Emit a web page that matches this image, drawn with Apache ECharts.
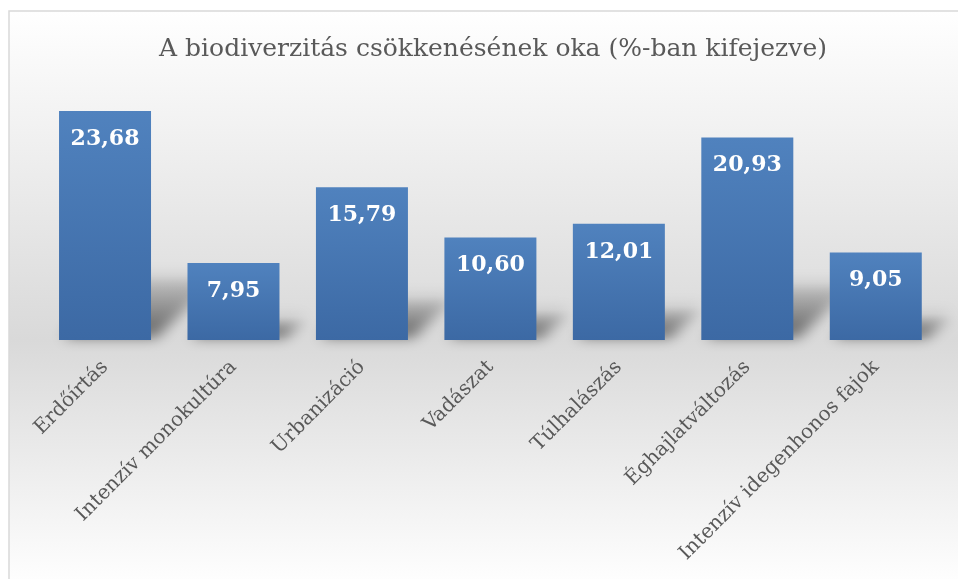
<!DOCTYPE html>
<html>
<head>
<meta charset="utf-8">
<script src="https://cdn.jsdelivr.net/npm/echarts@6/dist/echarts.min.js"></script>
<style>
  html, body { margin: 0; padding: 0; background: #ffffff; }
  #chart { width: 958px; height: 579px; }
</style>
</head>
<body>
<div id="chart"></div>
<script>
// Causes of biodiversity loss, in percent
const titleText = 'A biodiverzitás csökkenésének oka (%-ban kifejezve)';
const categories = [
  'Erdőírtás',
  'Intenzív monokultúra',
  'Urbanizáció',
  'Vadászat',
  'Túlhalászás',
  'Éghajlatváltozás',
  'Intenzív idegenhonos fajok'
];
const values = [23.68, 7.95, 15.79, 10.60, 12.01, 20.93, 9.05];

const serif = '"DejaVu Serif", "Liberation Serif", serif';
const fmt = v => v.toFixed(2).replace('.', ',');

const chart = echarts.init(document.getElementById('chart'), null, { renderer: 'canvas' });

// Soft slanted floor shadow behind each bar: the shape itself is drawn
// off to the left and only its blurred canvas shadow lands next to the bar.
const SHIFT = 3000;
function renderShadow(params, api) {
  const i = api.value(0);
  const v = api.value(1);
  const base = api.coord([i, 0]);
  const top = api.coord([i, v]);
  const w = api.size([1, 0])[0] * 0.716;
  const h = base[1] - top[1];
  const dh = h * 0.27;
  const dx = dh * 1.05;
  const x0 = base[0] - w / 2 - SHIFT;
  const x1 = base[0] + w / 2 - SHIFT;
  const y0 = base[1] - 3;
  return {
    type: 'polygon',
    shape: {
      points: [[x0 + 4, y0], [x1 + 5, y0], [x1 + dx + 5, y0 - dh], [x0 + dx, y0 - dh]]
    },
    style: {
      fill: new echarts.graphic.LinearGradient(0, 1, 0, 0, [
        { offset: 0, color: 'rgba(0,0,0,1)' },
        { offset: 1, color: 'rgba(0,0,0,0.2)' }
      ]),
      shadowBlur: 14,
      shadowOffsetX: SHIFT,
      shadowOffsetY: 0,
      shadowColor: 'rgba(0,0,0,0.55)'
    }
  };
}

chart.setOption({
  animation: false,
  backgroundColor: '#ffffff',
  graphic: [{
    type: 'rect',
    z: -10,
    shape: { x: 9, y: 11, width: 970, height: 580 },
    style: {
      stroke: '#d9d9d9',
      lineWidth: 1.5,
      fill: new echarts.graphic.LinearGradient(0, 0, 0, 1, [
        { offset: 0, color: '#ffffff' },
        { offset: 0.567, color: '#d9d9d9' },
        { offset: 0.98, color: '#fefefe' },
        { offset: 1, color: '#ffffff' }
      ])
    }
  }],
  title: {
    text: titleText,
    left: 488,
    textAlign: 'center',
    top: 32,
    textStyle: {
      fontFamily: serif,
      fontWeight: 'normal',
      fontSize: 25,
      color: '#595959'
    }
  },
  grid: { left: 40.8, right: 18, top: 98.2, bottom: 239, containLabel: false },
  xAxis: {
    type: 'category',
    data: categories,
    axisLine: { show: false },
    axisTick: { show: false },
    axisLabel: {
      rotate: 45,
      margin: 24,
      interval: 0,
      fontFamily: serif,
      fontSize: 20,
      color: '#595959'
    }
  },
  yAxis: {
    type: 'value',
    min: 0,
    max: 25,
    show: false,
    splitLine: { show: false }
  },
  series: [
    {
      type: 'custom',
      z: 1,
      silent: true,
      renderItem: renderShadow,
      data: values.map((v, i) => [i, v])
    },
    {
      type: 'bar',
      z: 3,
      data: values,
      barWidth: 92,
      itemStyle: {
        color: new echarts.graphic.LinearGradient(0, 0, 0, 1, [
          { offset: 0, color: '#5082be' },
          { offset: 1, color: '#3c69a4' }
        ])
      },
      label: {
        show: true,
        position: 'insideTop',
        distance: 17,
        formatter: p => fmt(p.value),
        fontFamily: serif,
        fontWeight: 'bold',
        fontSize: 22,
        color: '#ffffff'
      }
    }
  ]
});
</script>
</body>
</html>
